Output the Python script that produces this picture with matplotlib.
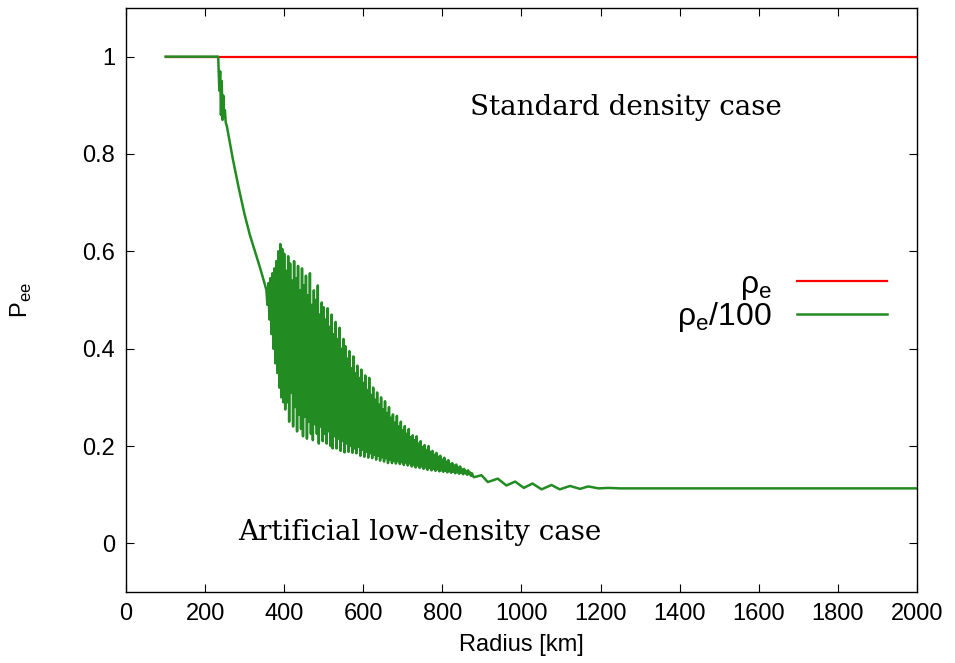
import matplotlib
matplotlib.use("Agg")
import matplotlib.pyplot as plt
from matplotlib.ticker import FuncFormatter

# standard density: flat at 1
radius_std = [100, 2000]
pee_std = [1.0, 1.0]

# rho_e / 100
# smooth part before the fast oscillations
radius_head = [100, 233, 236, 238, 240, 242, 244, 246, 248, 250, 252, 255,
               270, 285, 300, 313, 326, 339, 350]
pee_head = [1.0, 1.0, 0.93, 0.97, 0.88, 0.95, 0.87, 0.92, 0.875, 0.89, 0.865, 0.857,
            0.79, 0.73, 0.675, 0.634, 0.60, 0.566, 0.535]

# fast oscillations, sampled every 2.5 km from 355 km
osc_start, osc_step = 355, 2.5
pee_osc = [
    0.520, 0.490, 0.535, 0.460, 0.545, 0.430, 0.555, 0.400, 0.565, 0.370,
    0.580, 0.350, 0.600, 0.320, 0.615, 0.300, 0.605, 0.290, 0.595, 0.275,
    0.560, 0.290, 0.590, 0.250, 0.575, 0.310, 0.540, 0.240, 0.580, 0.280,
    0.545, 0.230, 0.570, 0.265, 0.520, 0.235, 0.565, 0.220, 0.530, 0.260,
    0.550, 0.215, 0.510, 0.250, 0.555, 0.225, 0.490, 0.212, 0.520, 0.245,
    0.500, 0.225, 0.530, 0.205, 0.470, 0.240, 0.495, 0.210, 0.485, 0.225,
    0.460, 0.205, 0.483, 0.230, 0.445, 0.200, 0.470, 0.195, 0.430, 0.220,
    0.455, 0.195, 0.420, 0.215, 0.443, 0.190, 0.400, 0.210, 0.420, 0.187,
    0.405, 0.205, 0.380, 0.188, 0.395, 0.200, 0.360, 0.186, 0.384, 0.195,
    0.350, 0.185, 0.365, 0.198, 0.340, 0.180, 0.357, 0.192, 0.330, 0.178,
    0.345, 0.188, 0.315, 0.176, 0.340, 0.185, 0.305, 0.175, 0.320, 0.182,
    0.295, 0.172, 0.310, 0.180, 0.285, 0.170, 0.300, 0.177, 0.275, 0.168,
    0.292, 0.175, 0.268, 0.165, 0.280, 0.172, 0.258, 0.165, 0.265, 0.170,
    0.248, 0.164, 0.262, 0.169, 0.240, 0.163, 0.250, 0.167, 0.232, 0.161,
    0.241, 0.166, 0.225, 0.160, 0.235, 0.164, 0.218, 0.158, 0.222, 0.161,
    0.212, 0.156, 0.220, 0.160, 0.205, 0.155, 0.210, 0.158, 0.198, 0.153,
    0.202, 0.156, 0.192, 0.151, 0.200, 0.155, 0.188, 0.150, 0.190, 0.153,
    0.182, 0.149, 0.186, 0.152, 0.178, 0.148, 0.180, 0.150, 0.172, 0.147,
    0.176, 0.149, 0.168, 0.146, 0.171, 0.148, 0.163, 0.145, 0.165, 0.147,
    0.160, 0.144, 0.162, 0.146, 0.156, 0.143, 0.158, 0.145, 0.152, 0.142,
    0.153, 0.144, 0.149, 0.141, 0.150, 0.142, 0.146, 0.139, 0.144, 0.138,
    0.136,
]

# slow damped wiggles and the flat tail
radius_tail = [899, 915, 940, 962, 984, 1006, 1028, 1051, 1076, 1097,
               1123, 1148, 1169, 1195, 1220, 1250, 2000]
pee_tail = [0.140, 0.126, 0.133, 0.119, 0.127, 0.114, 0.123, 0.111, 0.120, 0.111,
            0.118, 0.112, 0.117, 0.113, 0.114, 0.113, 0.113]

radius_osc = [osc_start + osc_step * i for i in range(len(pee_osc))]
radius_low = radius_head + radius_osc + radius_tail
pee_low = pee_head + pee_osc + pee_tail

xticks = list(range(0, 2001, 200))
yticks = [0, 0.2, 0.4, 0.6, 0.8, 1.0]

sans = ["Liberation Sans", "DejaVu Sans"]
narrow = ["Liberation Sans Narrow", "Liberation Sans", "DejaVu Sans"]
serif = "DejaVu Serif"

fig = plt.figure(figsize=(9.55, 6.63), dpi=100)
ax = fig.add_axes([0.132, 0.107, 0.828, 0.881])

ax.plot(radius_std, pee_std, color="#ff0000", lw=1.6,
        label="ρ$_{\\mathregular{e}}$")
ax.plot(radius_low, pee_low, color="#228b22", lw=1.8,
        label="ρ$_{\\mathregular{e}}$/100")

ax.set_xlim(0, 2000)
ax.set_ylim(-0.1, 1.1)
ax.set_xticks(xticks)
ax.set_yticks(yticks)
ax.yaxis.set_major_formatter(FuncFormatter(lambda v, p: "%g" % v))
ax.tick_params(direction="in", length=6, width=0.8, top=True, right=True, pad=8)
ax.tick_params(axis="x", labelsize=17)
ax.tick_params(axis="y", labelsize=17)
for lab in ax.get_xticklabels():
    lab.set_family(narrow)
for lab in ax.get_yticklabels():
    lab.set_family(sans)
for s in ax.spines.values():
    s.set_linewidth(1.0)

ax.set_xlabel("Radius [km]", family=narrow, fontsize=17, labelpad=6)
ax.set_ylabel("P$_{\\mathregular{ee}}$", family=sans, fontsize=17)
ax.yaxis.set_label_coords(-0.117, 0.5)

ax.text(1264, 0.895, "Standard density case", family=serif, fontsize=20,
        ha="center", va="center")
ax.text(743, 0.023, "Artificial low-density case", family=serif, fontsize=20,
        ha="center", va="center")

leg = ax.legend(loc="center right", bbox_to_anchor=(0.962, 0.497),
                frameon=False, markerfirst=False, handlelength=2.8,
                handletextpad=0.8, labelspacing=-0.05, borderaxespad=0,
                borderpad=0, prop={"family": sans, "size": 23})
for t in leg.get_texts():
    t.set_ha("right")

fig.savefig("out.png", dpi=100)
